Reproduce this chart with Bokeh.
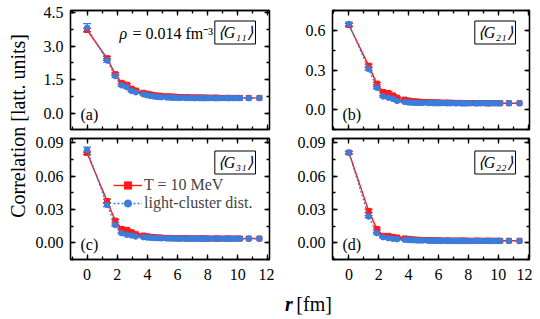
from math import pi
from bokeh.plotting import figure
from bokeh.models import (Range1d, LinearAxis, SingleIntervalTicker, NumeralTickFormatter,
                          Label, Legend, LegendItem, Whisker, TeeHead, ColumnDataSource, GridBox)
from bokeh.embed import file_html
from bokeh.resources import INLINE

# ---------------- data ----------------
r_fm = [0.00, 1.32, 1.87, 2.29, 2.64, 2.95, 3.23, 3.73, 3.96,
        4.17, 4.38, 4.57, 4.76, 4.94,
        5.28, 5.44, 5.60, 5.75, 5.90,
        6.05, 6.19, 6.47, 6.60, 6.73, 6.86,
        7.11, 7.23, 7.47, 7.58, 7.70, 7.81, 7.92,
        8.14, 8.45, 8.55, 8.66, 8.85,
        9.15, 9.33, 9.43, 9.70, 9.97,
        10.14, 10.72, 11.43]

g11_T = [3.72, 2.46, 1.75, 1.36, 1.28, 1.10, 1.02, 0.92, 0.88,
         0.85, 0.82, 0.80, 0.79, 0.78,
         0.76, 0.75, 0.75, 0.74, 0.74,
         0.73, 0.73, 0.72, 0.72, 0.72, 0.71,
         0.71, 0.71, 0.71, 0.70, 0.70, 0.70, 0.70,
         0.70, 0.70, 0.70, 0.69, 0.69,
         0.69, 0.69, 0.69, 0.69, 0.69,
         0.69, 0.69, 0.69]
g11_C = [3.82, 2.36, 1.66, 1.25, 1.17, 1.00, 0.94, 0.85, 0.81,
         0.78, 0.76, 0.74, 0.73, 0.72,
         0.71, 0.71, 0.70, 0.70, 0.70,
         0.69, 0.69, 0.69, 0.69, 0.69, 0.68,
         0.68, 0.68, 0.68, 0.68, 0.68, 0.68, 0.68,
         0.68, 0.68, 0.68, 0.68, 0.68,
         0.68, 0.68, 0.68, 0.68, 0.68,
         0.68, 0.68, 0.68]
g11_T_err = [0.07, 0.08, 0.06, 0.05, 0.05, 0.04, 0.04, 0.03, 0.03]
g11_C_err = [0.18, 0.08, 0.06, 0.05, 0.05, 0.04, 0.04, 0.03, 0.03]

g21_T = [0.640, 0.333, 0.197, 0.134, 0.126, 0.108, 0.091, 0.076, 0.070,
         0.066, 0.063, 0.061, 0.060, 0.058,
         0.057, 0.056, 0.055, 0.055, 0.054,
         0.054, 0.053, 0.053, 0.052, 0.052, 0.052,
         0.051, 0.051, 0.051, 0.051, 0.050, 0.050, 0.050,
         0.050, 0.050, 0.050, 0.050, 0.050,
         0.049, 0.049, 0.049, 0.049, 0.049,
         0.049, 0.049, 0.049]
g21_C = [0.648, 0.307, 0.166, 0.100, 0.091, 0.081, 0.066, 0.058, 0.055,
         0.053, 0.052, 0.051, 0.051, 0.050,
         0.050, 0.050, 0.050, 0.049, 0.049,
         0.049, 0.049, 0.049, 0.049, 0.049, 0.049,
         0.048, 0.048, 0.048, 0.048, 0.048, 0.048, 0.048,
         0.048, 0.048, 0.048, 0.048, 0.048,
         0.048, 0.048, 0.048, 0.048, 0.048,
         0.048, 0.048, 0.048]
g21_T_err = [0.012, 0.012, 0.010, 0.008, 0.008, 0.006, 0.006, 0.005, 0.005]
g21_C_err = [0.015, 0.010, 0.008, 0.006, 0.006, 0.005, 0.005, 0.004, 0.004]

g31_T = [0.0810, 0.0378, 0.0200, 0.0126, 0.0117, 0.0096, 0.0078, 0.0066, 0.0060,
         0.0055, 0.0052, 0.0050, 0.0048, 0.0047,
         0.0045, 0.0044, 0.0043, 0.0043, 0.0042,
         0.0042, 0.0041, 0.0041, 0.0041, 0.0040, 0.0040,
         0.0040, 0.0040, 0.0040, 0.0039, 0.0039, 0.0039, 0.0039,
         0.0039, 0.0039, 0.0039, 0.0039, 0.0039,
         0.0039, 0.0039, 0.0039, 0.0039, 0.0039,
         0.0039, 0.0039, 0.0039]
g31_C = [0.0837, 0.0342, 0.0160, 0.0087, 0.0072, 0.0066, 0.0057, 0.0051, 0.0048,
         0.0046, 0.0044, 0.0043, 0.0042, 0.0041,
         0.0040, 0.0040, 0.0039, 0.0039, 0.0039,
         0.0038, 0.0038, 0.0038, 0.0038, 0.0038, 0.0038,
         0.0037, 0.0037, 0.0037, 0.0037, 0.0037, 0.0037, 0.0037,
         0.0037, 0.0037, 0.0037, 0.0037, 0.0037,
         0.0037, 0.0037, 0.0037, 0.0037, 0.0037,
         0.0037, 0.0037, 0.0037]
g31_T_err = [0.0015, 0.0015, 0.0012, 0.0010, 0.0010, 0.0008, 0.0008, 0.0006, 0.0006]
g31_C_err = [0.0025, 0.0015, 0.0010, 0.0008, 0.0008, 0.0006, 0.0006, 0.0005, 0.0005]

g22_T = [0.0813, 0.0288, 0.0126, 0.0063, 0.0063, 0.0054, 0.0048, 0.0040, 0.0036,
         0.0032, 0.0030, 0.0028, 0.0027, 0.0026,
         0.0025, 0.0024, 0.0023, 0.0023, 0.0022,
         0.0022, 0.0021, 0.0021, 0.0021, 0.0020, 0.0020,
         0.0020, 0.0020, 0.0020, 0.0020, 0.0019, 0.0019, 0.0019,
         0.0019, 0.0019, 0.0019, 0.0019, 0.0019,
         0.0019, 0.0019, 0.0019, 0.0019, 0.0019,
         0.0019, 0.0019, 0.0019]
g22_C = [0.0813, 0.0237, 0.0087, 0.0051, 0.0042, 0.0036, 0.0033, 0.0028, 0.0026,
         0.0024, 0.0023, 0.0022, 0.0021, 0.0021,
         0.0020, 0.0020, 0.0019, 0.0019, 0.0019,
         0.0018, 0.0018, 0.0018, 0.0018, 0.0018, 0.0018,
         0.0017, 0.0017, 0.0017, 0.0017, 0.0017, 0.0017, 0.0017,
         0.0017, 0.0017, 0.0017, 0.0017, 0.0017,
         0.0017, 0.0017, 0.0017, 0.0017, 0.0017,
         0.0017, 0.0017, 0.0017]
g22_T_err = [0.0012, 0.0015, 0.0010, 0.0008, 0.0008, 0.0006, 0.0006, 0.0005, 0.0005]
g22_C_err = [0.0012, 0.0010, 0.0008, 0.0006, 0.0006, 0.0005, 0.0005, 0.0004, 0.0004]

series_labels = ["T = 10 MeV", "light-cluster dist."]
panel_tags = ["(a)", "(b)", "(c)", "(d)"]
corr_labels = ["⟨G₁₁⟩", "⟨G₂₁⟩", "⟨G₃₁⟩", "⟨G₂₂⟩"]
density_label = "= 0.014 fm⁻³"

# ---------------- style ----------------
RED = "#ff1a1a"
BLUE = "#3a7ddc"
FONT = "Liberation Serif"
LW = 1.3


def style_axis(ax, labels, ticker, fmt=None, standoff=7):
    ax.ticker = ticker
    if fmt is not None:
        ax.formatter = fmt
    ax.axis_line_color = "black"
    ax.axis_line_width = LW
    ax.major_tick_in = 5
    ax.major_tick_out = 0
    ax.minor_tick_in = 3
    ax.minor_tick_out = 0
    ax.major_tick_line_width = LW
    ax.minor_tick_line_width = LW
    ax.major_tick_line_color = "black"
    ax.minor_tick_line_color = "black"
    ax.major_label_text_font = FONT
    ax.major_label_text_color = "black"
    if labels:
        ax.major_label_text_font_size = "16px"
        ax.major_label_standoff = standoff
    else:
        ax.major_label_text_font_size = "0px"
        ax.major_label_standoff = 0


def panel(yr, yint, yfmt, red, blue, red_err, blue_err, tag, corr, show_x,
          bl, br, bt, bb, fw, fh):
    p = figure(width=bl + fw + br, height=bt + fh + bb,
               x_range=Range1d(-1.1, 12.1), y_range=Range1d(*yr),
               toolbar_location=None, output_backend="svg",
               min_border_left=bl, min_border_right=br,
               min_border_top=bt, min_border_bottom=bb)
    p.grid.visible = False
    p.outline_line_color = "black"
    p.outline_line_width = LW
    p.background_fill_color = "white"
    p.border_fill_color = "white"

    xt = SingleIntervalTicker(interval=2, num_minor_ticks=2)
    yt = SingleIntervalTicker(interval=yint, num_minor_ticks=2)
    style_axis(p.xaxis[0], show_x, xt, standoff=9)
    style_axis(p.yaxis[0], True, yt, NumeralTickFormatter(format=yfmt))
    top = LinearAxis()
    style_axis(top, False, SingleIntervalTicker(interval=2, num_minor_ticks=2))
    p.add_layout(top, "above")
    right = LinearAxis()
    style_axis(right, False, SingleIntervalTicker(interval=yint, num_minor_ticks=2))
    p.add_layout(right, "right")

    src = ColumnDataSource(dict(r=r_fm, red=red, blue=blue))
    n = len(red_err)
    esrc_r = ColumnDataSource(dict(r=r_fm[:n],
                                   lo=[v - e for v, e in zip(red[:n], red_err)],
                                   hi=[v + e for v, e in zip(red[:n], red_err)]))
    esrc_b = ColumnDataSource(dict(r=r_fm[:n],
                                   lo=[v - e for v, e in zip(blue[:n], blue_err)],
                                   hi=[v + e for v, e in zip(blue[:n], blue_err)]))

    rl = p.line("r", "red", source=src, line_color=RED, line_width=1.4)
    rp = p.scatter("r", "red", source=src, marker="square", size=5,
                   fill_color=RED, line_color=RED)
    bln = p.line("r", "blue", source=src, line_color=BLUE, line_width=1.3,
                 line_dash="2 2")
    bp = p.scatter("r", "blue", source=src, marker="circle", size=5.5,
                   fill_color=BLUE, line_color=BLUE)

    for es, col in ((esrc_b, BLUE), (esrc_r, RED)):
        w = Whisker(source=es, base="r", lower="lo", upper="hi", dimension="height",
                    line_color=col, line_width=1.2,
                    upper_head=TeeHead(size=8, line_color=col, line_width=1.2),
                    lower_head=TeeHead(size=8, line_color=col, line_width=1.2))
        p.add_layout(w)

    # panel tag
    p.add_layout(Label(x=10, y=15, x_units="screen", y_units="screen", text=tag,
                       text_font=FONT, text_font_size="16px", text_color="black",
                       text_baseline="middle", text_align="left"))
    # boxed correlator label with shadow
    bx = fw - 14
    by = 97
    p.add_layout(Label(x=bx + 4, y=by - 4, x_units="screen", y_units="screen", text=corr,
                       text_font=FONT, text_font_size="16px", text_font_style="italic",
                       text_alpha=0.0, text_align="right", text_baseline="middle",
                       background_fill_color="black", border_line_color="black",
                       padding=3))
    p.add_layout(Label(x=bx, y=by, x_units="screen", y_units="screen", text=corr,
                       text_font=FONT, text_font_size="16px", text_font_style="italic",
                       text_color="black", text_align="right", text_baseline="middle",
                       background_fill_color="white", border_line_color="black",
                       border_line_width=1, padding=3))
    return p, (rl, rp, bln, bp)


FW_L, FW_R = 199, 197
YT_W = 30
pa, _ = panel((-0.72, 4.59), 1.5, "0.0", g11_T, g11_C, g11_T_err, g11_C_err,
              panel_tags[0], corr_labels[0], False, 40, 5, 10, 4, FW_L, 119)
pb, _ = panel((-0.15, 0.75), 0.3, "0.0", g21_T, g21_C, g21_T_err, g21_C_err,
              panel_tags[1], corr_labels[1], False, 58, 3, 10, 4, FW_R, 119)
pc, rends = panel((-0.015, 0.094), 0.03, "0.00", g31_T, g31_C, g31_T_err, g31_C_err,
                  panel_tags[2], corr_labels[2], True, 40, 5, 5, 28, FW_L, 121)
pd, _ = panel((-0.015, 0.094), 0.03, "0.00", g22_T, g22_C, g22_T_err, g22_C_err,
              panel_tags[3], corr_labels[3], True, 58, 3, 5, 28, FW_R, 121)

# density annotation in panel (a)
pa.add_layout(Label(x=49, y=96, x_units="screen", y_units="screen", text="ρ",
                    text_font=FONT, text_font_size="16px", text_font_style="italic",
                    text_color="black", text_align="left", text_baseline="middle"))
pa.add_layout(Label(x=62, y=96, x_units="screen", y_units="screen", text=density_label,
                    text_font=FONT, text_font_size="16px",
                    text_color="black", text_align="left", text_baseline="middle"))

# legend in panel (c)
legend = Legend(items=[LegendItem(label=series_labels[0], renderers=[rends[0], rends[1]]),
                       LegendItem(label=series_labels[1], renderers=[rends[2], rends[3]])],
                location=(43, 47), padding=0, margin=0, spacing=0,
                glyph_width=29, glyph_height=18, label_height=18, label_standoff=2,
                label_text_font=FONT, label_text_font_size="16px",
                border_line_alpha=0, background_fill_alpha=0)
pc.add_layout(legend)

# y title
ROWS_H = (10 + 119 + 4) + (5 + 121 + 28)
yt_fig = figure(width=YT_W, height=ROWS_H, x_range=Range1d(0, YT_W), y_range=Range1d(0, ROWS_H),
                toolbar_location=None, output_backend="svg", min_border=0)
yt_fig.axis.visible = False
yt_fig.grid.visible = False
yt_fig.outline_line_color = None
yt_fig.add_layout(Label(x=17, y=ROWS_H - 133, text="Correlation [latt. units]", angle=pi / 2,
                        text_font=FONT, text_font_size="20px", text_color="black",
                        text_align="center", text_baseline="middle"))

# x title
XT_W = 40 + FW_L + 5 + 58 + FW_R + 3
XT_H = 30
xt_fig = figure(width=XT_W, height=XT_H, x_range=Range1d(0, XT_W), y_range=Range1d(0, XT_H),
                toolbar_location=None, output_backend="svg", min_border=0)
xt_fig.axis.visible = False
xt_fig.grid.visible = False
xt_fig.outline_line_color = None
xt_fig.add_layout(Label(x=243, y=14, text="r", text_font=FONT, text_font_size="20px",
                        text_font_style="bold italic", text_color="black",
                        text_align="right", text_baseline="middle"))
xt_fig.add_layout(Label(x=247, y=14, text="[fm]", text_font=FONT, text_font_size="20px",
                        text_color="black", text_align="left", text_baseline="middle"))

grid = GridBox(children=[(yt_fig, 0, 0, 2, 1), (pa, 0, 1), (pb, 0, 2),
                         (pc, 1, 1), (pd, 1, 2), (xt_fig, 2, 1, 1, 2)], spacing=0)

open("out.html", "w").write(file_html(grid, INLINE))
